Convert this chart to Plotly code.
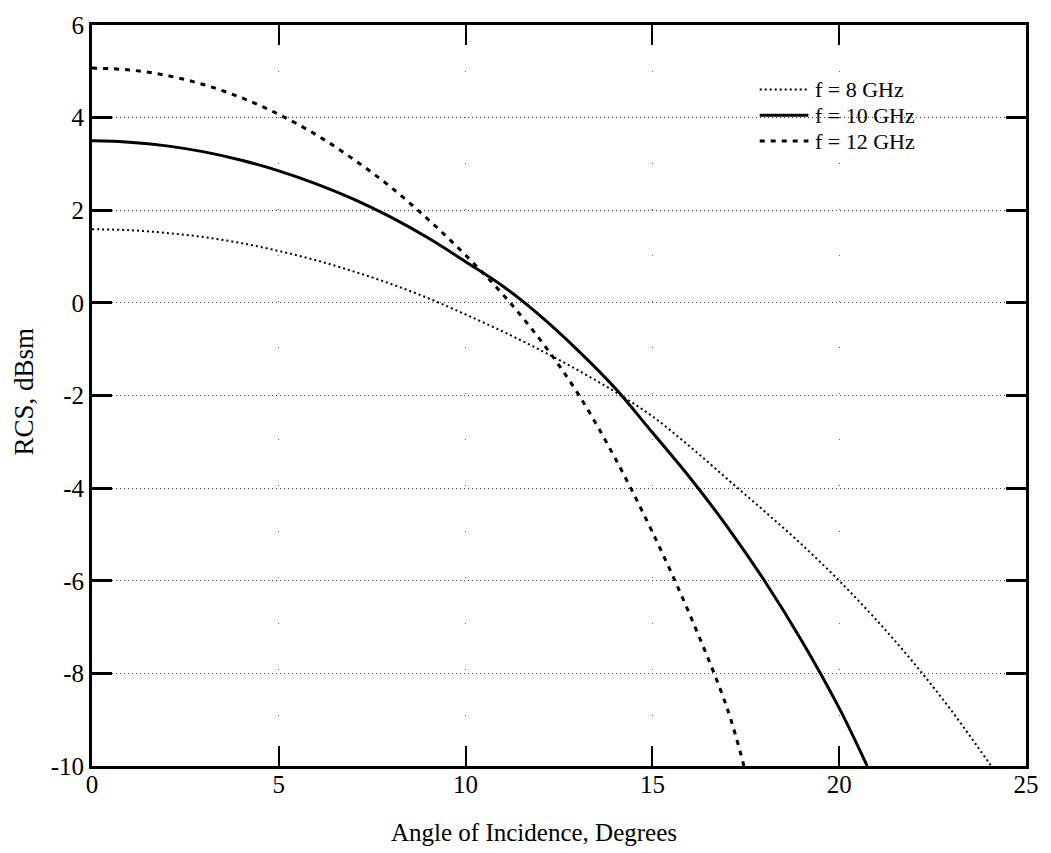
import plotly.graph_objects as go

# ---- data ----
angle_8 = [0, 1, 2, 3, 4, 5, 6, 7, 8, 9, 10, 11, 12, 13, 14, 15, 16, 17, 18, 19, 20, 21, 22, 23, 24, 24.07]
rcs_8 = [1.59, 1.57, 1.51, 1.42, 1.29, 1.12, 0.92, 0.68, 0.41, 0.1, -0.25, -0.62, -1.02, -1.45, -1.92,
         -2.45, -3.1, -3.8, -4.5, -5.22, -6.0, -6.85, -7.78, -8.8, -9.92, -10.0]

angle_10 = [0, 1, 2, 3, 4, 5, 6, 7, 8, 9, 10, 11, 12, 13, 14, 15, 16, 17, 18, 19, 20, 20.75]
rcs_10 = [3.5, 3.47, 3.39, 3.26, 3.08, 2.85, 2.57, 2.24, 1.85, 1.4, 0.89, 0.36, -0.28, -1.02, -1.84,
          -2.8, -3.77, -4.83, -6.0, -7.3, -8.75, -10.0]

angle_12 = [0, 1, 2, 3, 4, 5, 6, 7, 8, 9, 10, 11, 12, 13, 14, 15, 16, 17, 17.45]
rcs_12 = [5.07, 5.03, 4.91, 4.71, 4.43, 4.07, 3.63, 3.1, 2.5, 1.8, 1.03, 0.18, -0.8, -1.95, -3.35,
          -4.95, -6.73, -8.75, -10.0]

series_names = ["f = 8 GHz", "f = 10 GHz", "f = 12 GHz"]
x_ticks = [0, 5, 10, 15, 20, 25]
x_ticklabels = ["0", "5", "10", "15", "20", "25"]
y_ticks = [6, 4, 2, 0, -2, -4, -6, -8, -10]
y_ticklabels = ["6", "4", "2", "0", "-2", "-4", "-6", "-8", "-10"]

FONT = "Liberation Serif, Times New Roman, serif"
styles = [
    dict(width=2, dash="2px,3px"),
    dict(width=3, dash="solid"),
    dict(width=3, dash="5px,6px"),
]

fig = go.Figure()
for (xs, ys), name, st in zip([(angle_8, rcs_8), (angle_10, rcs_10), (angle_12, rcs_12)], series_names, styles):
    fig.add_trace(go.Scatter(x=xs, y=ys, mode="lines", name=name,
                             line=dict(color="black", width=st["width"], dash=st["dash"],
                                       shape="spline", smoothing=1.0),
                             showlegend=False))

# manual legend (line samples + labels)
L, R, T, B = 92, 1032, 19, 766
W, H = R - L, B - T
def px_x(p): return (p - L) / W
def px_y(p): return (B - p) / H

rows = [84, 110, 136]
for row, name, st in zip(rows, series_names, styles):
    fig.add_shape(type="line", xref="paper", yref="paper",
                  x0=px_x(764), x1=px_x(813), y0=px_y(row), y1=px_y(row),
                  line=dict(color="black", width=st["width"], dash=st["dash"]))
    fig.add_annotation(xref="paper", yref="paper", x=px_x(818), y=px_y(row),
                       xanchor="left", yanchor="middle", showarrow=False,
                       text=name, font=dict(family=FONT, size=22, color="black"))

fig.add_annotation(xref="paper", yref="paper", x=px_x(537), y=px_y(833),
                   xanchor="center", yanchor="middle", showarrow=False,
                   text="Angle of Incidence, Degrees", font=dict(family=FONT, size=25, color="black"))
fig.add_annotation(xref="paper", yref="paper", x=px_x(24), y=px_y(388),
                   xanchor="center", yanchor="middle", showarrow=False, textangle=-90,
                   text="RCS, dBsm", font=dict(family=FONT, size=27, color="black"))

fig.update_xaxes(range=[0, 25], tickvals=x_ticks, ticktext=x_ticklabels,
                 ticks="inside", ticklen=20, tickwidth=2, tickcolor="black",
                 showline=True, linewidth=3, linecolor="black", mirror="ticks",
                 showgrid=True, gridcolor="#666", gridwidth=1, griddash="1px,45px",
                 ticklabelstandoff=-6,
                 zeroline=False, tickfont=dict(family=FONT, size=25, color="black"))
fig.update_yaxes(range=[-10, 6], tickvals=y_ticks, ticktext=y_ticklabels,
                 ticks="inside", ticklen=20, tickwidth=3, tickcolor="black",
                 showline=True, linewidth=3, linecolor="black", mirror="ticks",
                 showgrid=True, gridcolor="#444", gridwidth=1, griddash="1px,3px",
                 zeroline=False, tickfont=dict(family=FONT, size=25, color="black"))

fig.update_layout(width=1051, height=853,
                  margin=dict(l=L, r=1051 - R, t=T, b=853 - B),
                  paper_bgcolor="white", plot_bgcolor="white",
                  font=dict(family=FONT, color="black"))

fig.write_html("out.html")
